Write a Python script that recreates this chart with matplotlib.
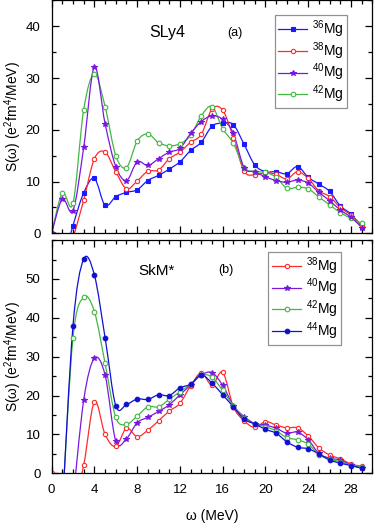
import numpy as np
import matplotlib
matplotlib.use("Agg")
from matplotlib import pyplot as plt
from matplotlib.path import Path
from matplotlib.patches import PathPatch
from matplotlib.lines import Line2D

plt.rcParams['font.family'] = ['Liberation Sans', 'DejaVu Sans']
plt.rcParams['mathtext.fontset'] = 'custom'
plt.rcParams['mathtext.rm'] = 'Liberation Sans'
plt.rcParams['mathtext.it'] = 'Liberation Sans:italic'

# ---- SLy4 panel (a) ----
x_a36 = list(range(1, 30))
s_a36 = [-6, 1.5, 7.8, 10.6, 5.4, 7.1, 7.9, 8.4, 10.2, 11.2, 12.4, 13.8, 16.0, 17.6, 20.7,
         21.3, 21.0, 17.2, 13.2, 11.9, 11.9, 11.5, 12.9, 10.8, 9.5, 8.1, 5.3, 3.7, 1.3]
x_a38 = list(range(1, 30))
s_a38 = [-8, -1.0, 6.4, 14.4, 15.7, 11.9, 8.6, 10.1, 12.0, 12.2, 14.4, 15.7, 17.6, 19.1, 24.0,
         23.8, 18.5, 12.0, 11.3, 11.7, 11.4, 10.5, 11.9, 10.6, 8.2, 7.1, 5.0, 3.5, 1.6]
x_a40 = list(range(0, 30))
s_a40 = [0, 6.6, 4.4, 16.6, 32.2, 21.2, 12.9, 10.2, 13.8, 13.1, 14.4, 15.7, 16.4, 19.3, 21.6,
         22.7, 22.0, 19.3, 12.7, 11.9, 10.9, 10.2, 9.85, 10.3, 9.7, 7.9, 6.3, 4.5, 3.1, 1.1]
x_a42 = list(range(0, 30))
s_a42 = [0, 7.8, 5.8, 23.9, 30.8, 24.5, 15.0, 12.7, 17.8, 19.2, 17.5, 16.9, 17.3, 18.9, 22.7,
         24.5, 20.2, 17.4, 12.7, 11.9, 11.8, 10.8, 8.7, 8.9, 8.6, 7.0, 5.5, 4.0, 2.9, 1.9]

# ---- SkM* panel (b) ----
x_b38 = list(range(0, 30))
s_b38 = [0, -6, -8, 2.1, 18.4, 10.0, 6.9, 11.6, 9.4, 11.1, 13.5, 16.0, 18.0, 22.5, 25.8,
         22.7, 26.0, 17.1, 13.5, 11.8, 13.3, 12.4, 11.7, 11.7, 9.6, 6.5, 4.7, 3.7, 2.4, 1.8]
x_b40 = list(range(2, 30))
s_b40 = [-7, 18.8, 29.6, 25.3, 8.3, 8.9, 13.0, 14.4, 15.9, 17.6, 20.2, 22.7, 25.3, 25.9,
         22.6, 17.4, 14.6, 12.8, 12.4, 11.6, 10.3, 10.6, 8.6, 5.1, 3.9, 3.4, 2.1, 1.3]
x_b42 = list(range(1, 30))
s_b42 = [-8.5, 34.9, 45.3, 41.6, 28.3, 14.4, 12.6, 14.7, 17.1, 17.1, 19.0, 21.0, 22.9, 25.3,
         24.7, 21.3, 17.4, 14.2, 12.7, 12.0, 10.9, 9.2, 8.6, 7.5, 4.8, 3.6, 3.0, 2.1, 1.7]
x_b44 = list(range(1, 30))
s_b44 = [-9.5, 38.0, 55.1, 51.0, 34.9, 17.4, 17.7, 19.1, 19.0, 20.2, 20.0, 22.0, 22.9, 25.3,
         23.2, 20.2, 17.1, 13.9, 12.7, 11.3, 10.3, 8.1, 6.7, 6.3, 5.0, 3.4, 2.6, 2.0, 1.3]

lab36 = r'$^{36}$Mg'
lab38 = r'$^{38}$Mg'
lab40 = r'$^{40}$Mg'
lab42 = r'$^{42}$Mg'
lab44 = r'$^{44}$Mg'

blue = '#1a1aff'
navy = '#1010d0'
red = '#ff2a2a'
purple = '#7a18e0'
green = '#42b842'

# style per nucleus: line colour, marker, face colour, size
sty = {
    '36': (blue, 's', blue, 3.0),
    '38': (red, 'o', 'white', 3.1),
    '40': (purple, '*', purple, 4.4),
    '42': (green, 'o', 'white', 3.3),
    '44': (navy, 'o', navy, 3.3),
}


def spline_path(x, y):
    # Catmull-Rom curve through the points, drawn as cubic Bezier pieces
    pts = np.column_stack([np.asarray(x, float), np.asarray(y, float)])
    pad = np.vstack([pts[:1], pts, pts[-1:]])
    verts = [pts[0]]
    codes = [Path.MOVETO]
    for i in range(len(pts) - 1):
        p0, p1, p2, p3 = pad[i], pad[i + 1], pad[i + 2], pad[i + 3]
        verts += [p1 + (p2 - p0) / 6.0, p2 - (p3 - p1) / 6.0, p2]
        codes += [Path.CURVE4] * 3
    return Path(verts, codes)


def draw(ax, x, y, key):
    col, mk, fc, ms = sty[key]
    ax.add_patch(PathPatch(spline_path(x, y), fill=False, edgecolor=col, lw=0.9))
    ax.plot(x, y, ls='none', marker=mk, mfc=fc, mec=col, ms=ms, mew=0.8)


def handle(key):
    col, mk, fc, ms = sty[key]
    return Line2D([], [], color=col, lw=0.9, marker=mk, mfc=fc, mec=col, ms=ms, mew=0.8)


def style_axes(ax, ymax, ystep):
    ax.set_xlim(0, 30)
    ax.set_ylim(0, ymax)
    ax.set_xticks(np.arange(0, 30, 4))
    ax.set_xticks(np.arange(0, 31, 1), minor=True)
    ax.set_yticks(np.arange(0, ymax, ystep))
    ax.set_yticks(np.arange(0, ymax + 0.1, ystep / 2), minor=True)
    ax.tick_params(which='both', direction='in', top=True, right=True, width=0.9)
    ax.tick_params(which='major', length=5, labelsize=9.5, pad=8)
    ax.tick_params(which='minor', length=3)
    for s in ax.spines.values():
        s.set_linewidth(0.9)
    ax.set_ylabel(r'S(ω) (e$^{2}$fm$^{4}$/MeV)', fontsize=10)
    ax.yaxis.set_label_coords(-0.085, 0.5)


def add_legend(ax, keys, labels, anchor):
    leg = ax.legend([handle(k) for k in keys], labels, loc='upper right',
                    bbox_to_anchor=anchor, fontsize=10, frameon=True, fancybox=False,
                    handlelength=2.1, handletextpad=0.35, labelspacing=0.0, borderpad=0.25,
                    borderaxespad=0, numpoints=1)
    leg.get_frame().set_edgecolor('#777777')
    leg.get_frame().set_linewidth(0.9)


fig = plt.figure(figsize=(3.74, 5.24), dpi=100)
ax1 = fig.add_axes([0.138, 0.5548, 0.8577, 0.4444])
ax2 = fig.add_axes([0.138, 0.0968, 0.8577, 0.4450])

draw(ax1, x_a36, s_a36, '36')
draw(ax1, x_a38, s_a38, '38')
draw(ax1, x_a42, s_a42, '42')
draw(ax1, x_a40, s_a40, '40')
style_axes(ax1, 45, 10)
ax1.tick_params(labelbottom=False)
ax1.text(0.36, 0.862, 'SLy4', transform=ax1.transAxes, fontsize=11.5, ha='center', va='center')
ax1.text(0.57, 0.862, '(a)', transform=ax1.transAxes, fontsize=9, ha='center', va='center')
add_legend(ax1, ['36', '38', '40', '42'], [lab36, lab38, lab40, lab42], (0.922, 0.937))

draw(ax2, x_b38, s_b38, '38')
draw(ax2, x_b40, s_b40, '40')
draw(ax2, x_b42, s_b42, '42')
draw(ax2, x_b44, s_b44, '44')
style_axes(ax2, 60, 10)
ax2.set_xlabel('ω (MeV)', fontsize=10, labelpad=9)
ax2.text(0.326, 0.866, 'SkM*', transform=ax2.transAxes, fontsize=11, ha='center', va='center')
ax2.text(0.544, 0.872, '(b)', transform=ax2.transAxes, fontsize=9, ha='center', va='center')
add_legend(ax2, ['38', '40', '42', '44'], [lab38, lab40, lab42, lab44], (0.903, 0.95))

fig.savefig('out.png', dpi=100)
